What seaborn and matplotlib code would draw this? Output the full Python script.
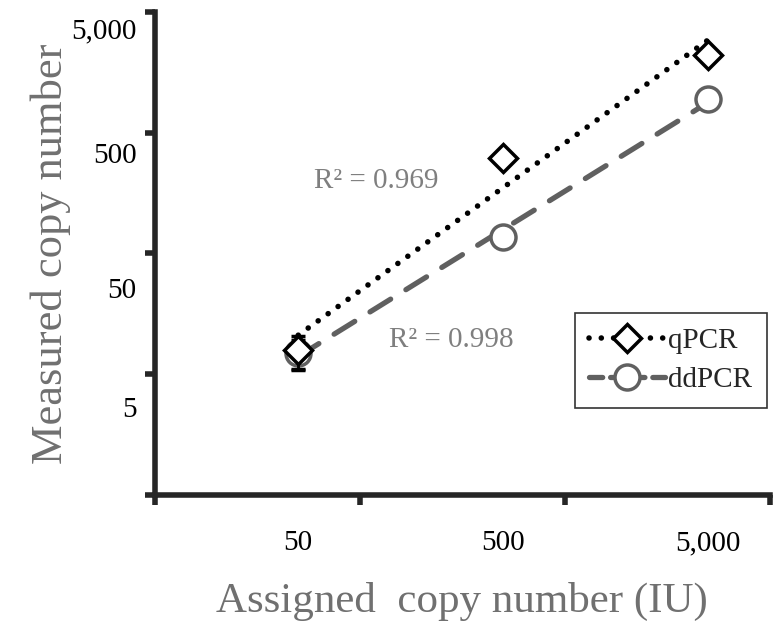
import numpy as np
import pandas as pd
import seaborn as sns
import matplotlib.pyplot as plt
from matplotlib.lines import Line2D

assigned = [50, 500, 5000]
qpcr = [15.8, 620, 4400]
ddpcr = [15.0, 138, 1900]
qpcr_err = [5, 0, 0]
ddpcr_err = [4, 0, 0]
y_labels = ["5", "50", "500", "5,000"]
x_labels = ["50", "500", "5,000"]

sns.set_style("ticks")
plt.rcParams['font.family'] = ['Liberation Serif', 'DejaVu Serif']

fig = plt.figure(figsize=(7.79, 6.28), dpi=100)
ax = fig.add_axes([0.199, 0.212, 0.789, 0.769])
ax.set_xscale("log")
ax.set_yscale("log")

gray = "#606060"
dots = (0, (0.01, 2.2))
dashes = (0, (4.6, 3.4))

def power_fit(x, y):
    lx, ly = np.log10(x), np.log10(y)
    b, a = np.polyfit(lx, ly, 1)
    pred = a + b * lx
    r2 = 1 - np.sum((ly - pred) ** 2) / np.sum((ly - ly.mean()) ** 2)
    return a, b, r2

xs = np.array(assigned, dtype=float)
aq, bq, r2q = power_fit(xs, np.array(qpcr))
ad, bd, r2d = power_fit(xs, np.array(ddpcr))
xx = np.array([xs[0], xs[-1]])
fits = pd.DataFrame({"x": xx, "q": 10 ** (aq + bq * np.log10(xx)),
                     "d": 10 ** (ad + bd * np.log10(xx))})

sns.lineplot(data=fits, x="x", y="q", ax=ax, color="black", lw=4,
             linestyle=dots)
ax.lines[-1].set_dash_capstyle("round")
sns.lineplot(data=fits, x="x", y="d", ax=ax, color=gray, lw=3.8,
             linestyle=dashes)
ax.lines[-1].set_dash_capstyle("round")

ax.errorbar(assigned, ddpcr, yerr=ddpcr_err, fmt="o", ms=18, mfc="white",
            mec=gray, mew=2.5, ecolor="black", elinewidth=2, capsize=5,
            capthick=3, zorder=3)
ax.errorbar(assigned, qpcr, yerr=qpcr_err, fmt="D", ms=14, mfc="white",
            mec="black", mew=2.5, ecolor="black", elinewidth=2, capsize=5,
            capthick=3, zorder=4)

ax.set_xlim(10, 10000)
ax.set_ylim(1, 10000)
ax.set_xticks([10, 100, 1000, 10000])
ax.set_yticks([1, 10, 100, 1000, 10000])
ax.set_xticklabels([])
ax.set_yticklabels([])
ax.minorticks_off()
ax.tick_params(axis="both", which="major", width=4, length=7, direction="out")

for v, lab in zip([5, 49, 640, 6900], y_labels):
    ax.text(-0.03, v, lab, transform=ax.get_yaxis_transform(), ha="right",
            va="center", fontsize=21, color="black")
for v, lab in zip(assigned, x_labels):
    ax.text(v, -0.1, lab, transform=ax.get_xaxis_transform(), ha="center",
            va="center", fontsize=21, color="black")

for sp in ["left", "bottom"]:
    ax.spines[sp].set_linewidth(4)
sns.despine(ax=ax)

ax.set_xlabel("Assigned  copy number (IU)", fontsize=31, color="#707070",
              labelpad=52)
ax.set_ylabel("Measured copy number", fontsize=32, color="#707070",
              labelpad=50)

ax.text(60, 400, "R\u00b2 = 0.969", fontsize=21, color="#7f7f7f", va="center")
ax.text(139, 19, "R\u00b2 = 0.998", fontsize=21, color="#7f7f7f", va="center")

handles = [
    Line2D([], [], color="black", lw=4, linestyle=dots, dash_capstyle="round",
           marker="D", ms=14, mfc="white", mec="black", mew=2.5),
    Line2D([], [], color=gray, lw=3.8, linestyle=(0, (2.5, 1.5)),
           dash_capstyle="round", marker="o", ms=18, mfc="white", mec=gray,
           mew=2.5),
]
leg = fig.legend(handles, ["qPCR", "ddPCR"], loc="upper left",
                 bbox_to_anchor=(0.738, 0.502), fontsize=21, frameon=True,
                 fancybox=False, edgecolor="black", handlelength=2.6,
                 handletextpad=0.1, borderpad=0.5, labelspacing=0.45,
                 borderaxespad=0)
leg.get_frame().set_linewidth(1.2)

fig.savefig("out.png", dpi=100)
